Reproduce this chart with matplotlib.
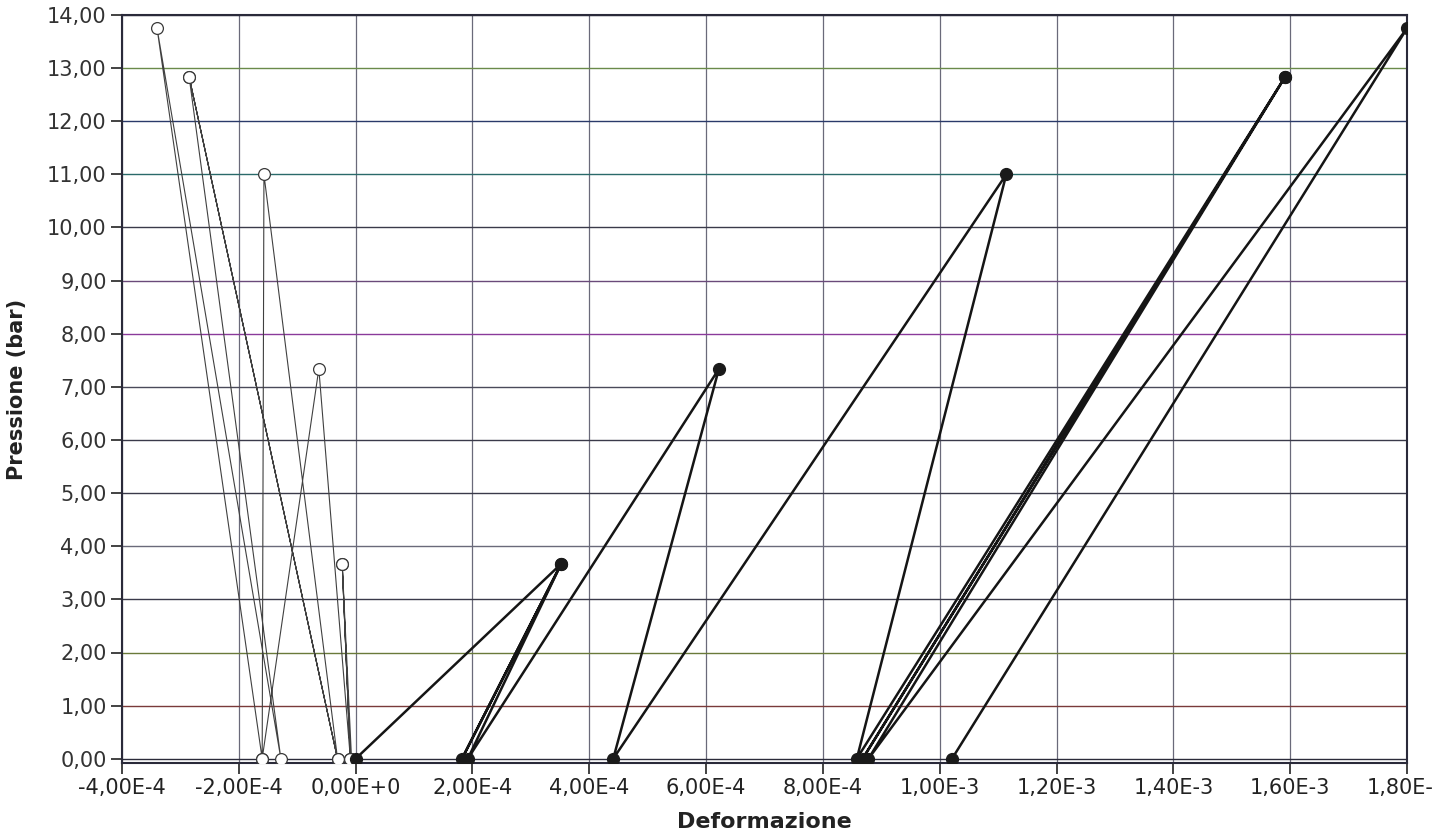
import numpy as np
import matplotlib
matplotlib.use('Agg')
import matplotlib.pyplot as plt
import matplotlib.ticker as ticker

plt.rcParams['font.family'] = ['DejaVu Sans']

# pressure cycle (bar), shared by both gauges
pressione = [0.0, 3.67, 0.0, 3.67, 0.0, 7.34, 0.0, 11.0, 0.0, 12.83, 0.0, 12.83, 0.0, 13.75, 0.0]
# strain, hollow markers (transverse gauge, negative)
def_trasv = [-0.07e-4, -0.23e-4, -0.09e-4, -0.23e-4, -0.09e-4, -0.63e-4, -1.60e-4, -1.57e-4,
             -0.31e-4, -2.85e-4, -0.31e-4, -2.85e-4, -1.28e-4, -3.40e-4, -1.60e-4]
# strain, filled markers (longitudinal gauge)
def_long = [0.0, 3.52e-4, 1.82e-4, 3.52e-4, 1.92e-4, 6.22e-4, 4.41e-4, 11.14e-4,
            8.58e-4, 15.91e-4, 8.68e-4, 15.91e-4, 8.78e-4, 18.0e-4, 10.21e-4]

x_ticks = np.arange(-4e-4, 1.81e-3, 2e-4)
y_ticks = np.arange(0, 15, 1)
# scanned grid tints, bottom to top
grid_col_y = ['#2b2b3a', '#7a3a3a', '#6a7a3a', '#3a3a4a', '#6a6a7a', '#3a3a4a', '#3a3a4a',
              '#4a4a5a', '#8a3a9a', '#6a4a7a', '#3a3a4a', '#2a6a6a', '#2a3a6a', '#6a8a4a', '#2b2b3a']


def fmt_x(v, pos):
    if abs(v) < 1e-12:
        return '0,00E+0'
    e = int(np.floor(np.log10(abs(v)) + 1e-9))
    m = v / 10 ** e
    return ('%.2fE%+d' % (m, e)).replace('.', ',')


def fmt_y(v, pos):
    return ('%.2f' % v).replace('.', ',')


fig = plt.figure(figsize=(14.34, 8.36), dpi=100)
ax = fig.add_axes([122 / 1434, 1 - 763 / 836, 1285 / 1434, 748 / 836])

ax.plot(def_trasv, pressione, color='#404040', lw=0.8, marker='o', ms=8.5,
        mfc='white', mec='#3a3a3a', mew=0.9, zorder=3)
ax.plot(def_long, pressione, color='#151515', lw=1.8, marker='o', ms=8.5,
        mfc='#1a1a1a', mec='#1a1a1a', zorder=4)

ax.set_xlim(-4e-4, 1.8e-3)
ax.set_ylim(-0.08, 14.0)
ax.set_xticks(x_ticks)
ax.set_yticks(y_ticks)
ax.xaxis.set_major_formatter(ticker.FuncFormatter(fmt_x))
ax.yaxis.set_major_formatter(ticker.FuncFormatter(fmt_y))
ax.tick_params(axis='both', direction='out', length=8, width=1.2, labelsize=15,
               colors='#222222', pad=3)
ax.tick_params(axis='y', labelcolor='#333333')

ax.grid(True, lw=1.0, color='#4a4a55')
for gl, c in zip(ax.get_ygridlines(), grid_col_y):
    gl.set_color(c)
for gl in ax.get_xgridlines():
    gl.set_color('#6a6a7a')
    gl.set_linewidth(0.9)
ax.set_axisbelow(True)

for s in ax.spines.values():
    s.set_color('#2a2a3a')
    s.set_linewidth(1.5)

ax.set_xlabel('Deformazione', fontsize=16, fontweight='bold', color='#222222')
ax.set_ylabel('Pressione (bar)', fontsize=15, fontweight='bold', color='#222222')
ax.xaxis.set_label_coords(0.5, -0.066)
ax.yaxis.set_label_coords(-0.074, 0.5)

plt.savefig('out.png', dpi=100)
plt.close()
